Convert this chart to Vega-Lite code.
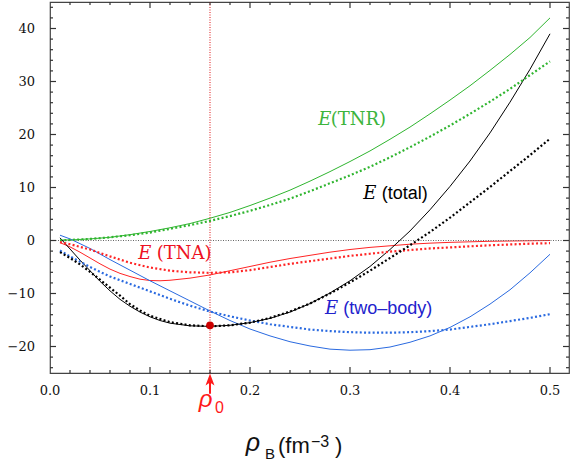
{
  "$schema": "https://vega.github.io/schema/vega-lite/v6.json",
  "width": 519,
  "height": 371,
  "autosize": {"type": "none"},
  "padding": {"left": 50, "top": 2, "right": 12, "bottom": 95},
  "data": {"values": [{}]},
  "config": {
    "view": {"stroke": "#444", "strokeWidth": 1.2}
  },
  "datasets": {
    "xlabels": [{"rho": 0}, {"rho": 0.1}, {"rho": 0.2}, {"rho": 0.3}, {"rho": 0.4}, {"rho": 0.5}],
    "ylabels": [{"E": -20}, {"E": -10}, {"E": 0}, {"E": 10}, {"E": 20}, {"E": 30}, {"E": 40}],
    "xmajor": [{"rho": 0.1}, {"rho": 0.2}, {"rho": 0.3}, {"rho": 0.4}, {"rho": 0.5}],
    "xminor": [{"rho": 0.02}, {"rho": 0.04}, {"rho": 0.06}, {"rho": 0.08}, {"rho": 0.12}, {"rho": 0.14}, {"rho": 0.16}, {"rho": 0.18}, {"rho": 0.22}, {"rho": 0.24}, {"rho": 0.26}, {"rho": 0.28}, {"rho": 0.32}, {"rho": 0.34}, {"rho": 0.36}, {"rho": 0.38}, {"rho": 0.42}, {"rho": 0.44}, {"rho": 0.46}, {"rho": 0.48}],
    "ymajor": [{"E": -20}, {"E": -10}, {"E": 0}, {"E": 10}, {"E": 20}, {"E": 30}, {"E": 40}],
    "yminor": [{"E": -24}, {"E": -22}, {"E": -18}, {"E": -16}, {"E": -14}, {"E": -12}, {"E": -8}, {"E": -6}, {"E": -4}, {"E": -2}, {"E": 2}, {"E": 4}, {"E": 6}, {"E": 8}, {"E": 12}, {"E": 14}, {"E": 16}, {"E": 18}, {"E": 22}, {"E": 24}, {"E": 26}, {"E": 28}, {"E": 32}, {"E": 34}, {"E": 36}, {"E": 38}, {"E": 42}, {"E": 44}],
    "curves": [
      {"rho": 0.01, "E": 0.1, "comp": "TNR", "style": "solid"},
      {"rho": 0.02, "E": 0.1, "comp": "TNR", "style": "solid"},
      {"rho": 0.04, "E": 0.3, "comp": "TNR", "style": "solid"},
      {"rho": 0.06, "E": 0.6, "comp": "TNR", "style": "solid"},
      {"rho": 0.08, "E": 1.1, "comp": "TNR", "style": "solid"},
      {"rho": 0.10, "E": 1.7, "comp": "TNR", "style": "solid"},
      {"rho": 0.12, "E": 2.4, "comp": "TNR", "style": "solid"},
      {"rho": 0.14, "E": 3.2, "comp": "TNR", "style": "solid"},
      {"rho": 0.16, "E": 4.2, "comp": "TNR", "style": "solid"},
      {"rho": 0.18, "E": 5.3, "comp": "TNR", "style": "solid"},
      {"rho": 0.20, "E": 6.6, "comp": "TNR", "style": "solid"},
      {"rho": 0.22, "E": 8.0, "comp": "TNR", "style": "solid"},
      {"rho": 0.24, "E": 9.5, "comp": "TNR", "style": "solid"},
      {"rho": 0.26, "E": 11.2, "comp": "TNR", "style": "solid"},
      {"rho": 0.28, "E": 13.0, "comp": "TNR", "style": "solid"},
      {"rho": 0.30, "E": 14.9, "comp": "TNR", "style": "solid"},
      {"rho": 0.32, "E": 16.9, "comp": "TNR", "style": "solid"},
      {"rho": 0.34, "E": 19.1, "comp": "TNR", "style": "solid"},
      {"rho": 0.36, "E": 21.4, "comp": "TNR", "style": "solid"},
      {"rho": 0.38, "E": 23.9, "comp": "TNR", "style": "solid"},
      {"rho": 0.40, "E": 26.5, "comp": "TNR", "style": "solid"},
      {"rho": 0.42, "E": 29.2, "comp": "TNR", "style": "solid"},
      {"rho": 0.44, "E": 32.1, "comp": "TNR", "style": "solid"},
      {"rho": 0.46, "E": 35.1, "comp": "TNR", "style": "solid"},
      {"rho": 0.48, "E": 38.3, "comp": "TNR", "style": "solid"},
      {"rho": 0.50, "E": 42.0, "comp": "TNR", "style": "solid"},

      {"rho": 0.01, "E": 0.0, "comp": "TNR", "style": "dotted"},
      {"rho": 0.02, "E": 0.1, "comp": "TNR", "style": "dotted"},
      {"rho": 0.04, "E": 0.3, "comp": "TNR", "style": "dotted"},
      {"rho": 0.06, "E": 0.6, "comp": "TNR", "style": "dotted"},
      {"rho": 0.08, "E": 1.0, "comp": "TNR", "style": "dotted"},
      {"rho": 0.10, "E": 1.5, "comp": "TNR", "style": "dotted"},
      {"rho": 0.12, "E": 2.2, "comp": "TNR", "style": "dotted"},
      {"rho": 0.14, "E": 2.9, "comp": "TNR", "style": "dotted"},
      {"rho": 0.16, "E": 3.7, "comp": "TNR", "style": "dotted"},
      {"rho": 0.18, "E": 4.6, "comp": "TNR", "style": "dotted"},
      {"rho": 0.20, "E": 5.6, "comp": "TNR", "style": "dotted"},
      {"rho": 0.22, "E": 6.7, "comp": "TNR", "style": "dotted"},
      {"rho": 0.24, "E": 7.9, "comp": "TNR", "style": "dotted"},
      {"rho": 0.26, "E": 9.3, "comp": "TNR", "style": "dotted"},
      {"rho": 0.28, "E": 10.8, "comp": "TNR", "style": "dotted"},
      {"rho": 0.30, "E": 12.3, "comp": "TNR", "style": "dotted"},
      {"rho": 0.32, "E": 13.9, "comp": "TNR", "style": "dotted"},
      {"rho": 0.34, "E": 15.7, "comp": "TNR", "style": "dotted"},
      {"rho": 0.36, "E": 17.6, "comp": "TNR", "style": "dotted"},
      {"rho": 0.38, "E": 19.6, "comp": "TNR", "style": "dotted"},
      {"rho": 0.40, "E": 21.7, "comp": "TNR", "style": "dotted"},
      {"rho": 0.42, "E": 23.9, "comp": "TNR", "style": "dotted"},
      {"rho": 0.44, "E": 26.2, "comp": "TNR", "style": "dotted"},
      {"rho": 0.46, "E": 28.6, "comp": "TNR", "style": "dotted"},
      {"rho": 0.48, "E": 31.2, "comp": "TNR", "style": "dotted"},
      {"rho": 0.50, "E": 33.8, "comp": "TNR", "style": "dotted"},

      {"rho": 0.01, "E": -0.4, "comp": "TNA", "style": "solid"},
      {"rho": 0.02, "E": -1.2, "comp": "TNA", "style": "solid"},
      {"rho": 0.03, "E": -2.2, "comp": "TNA", "style": "solid"},
      {"rho": 0.04, "E": -3.3, "comp": "TNA", "style": "solid"},
      {"rho": 0.05, "E": -4.4, "comp": "TNA", "style": "solid"},
      {"rho": 0.06, "E": -5.4, "comp": "TNA", "style": "solid"},
      {"rho": 0.07, "E": -6.2, "comp": "TNA", "style": "solid"},
      {"rho": 0.08, "E": -6.8, "comp": "TNA", "style": "solid"},
      {"rho": 0.09, "E": -7.3, "comp": "TNA", "style": "solid"},
      {"rho": 0.10, "E": -7.55, "comp": "TNA", "style": "solid"},
      {"rho": 0.11, "E": -7.6, "comp": "TNA", "style": "solid"},
      {"rho": 0.12, "E": -7.5, "comp": "TNA", "style": "solid"},
      {"rho": 0.14, "E": -7.1, "comp": "TNA", "style": "solid"},
      {"rho": 0.16, "E": -6.5, "comp": "TNA", "style": "solid"},
      {"rho": 0.18, "E": -5.7, "comp": "TNA", "style": "solid"},
      {"rho": 0.20, "E": -4.9, "comp": "TNA", "style": "solid"},
      {"rho": 0.22, "E": -4.1, "comp": "TNA", "style": "solid"},
      {"rho": 0.24, "E": -3.4, "comp": "TNA", "style": "solid"},
      {"rho": 0.26, "E": -2.8, "comp": "TNA", "style": "solid"},
      {"rho": 0.28, "E": -2.2, "comp": "TNA", "style": "solid"},
      {"rho": 0.30, "E": -1.7, "comp": "TNA", "style": "solid"},
      {"rho": 0.32, "E": -1.3, "comp": "TNA", "style": "solid"},
      {"rho": 0.34, "E": -1.0, "comp": "TNA", "style": "solid"},
      {"rho": 0.36, "E": -0.7, "comp": "TNA", "style": "solid"},
      {"rho": 0.38, "E": -0.5, "comp": "TNA", "style": "solid"},
      {"rho": 0.40, "E": -0.35, "comp": "TNA", "style": "solid"},
      {"rho": 0.42, "E": -0.25, "comp": "TNA", "style": "solid"},
      {"rho": 0.44, "E": -0.15, "comp": "TNA", "style": "solid"},
      {"rho": 0.46, "E": -0.1, "comp": "TNA", "style": "solid"},
      {"rho": 0.48, "E": -0.05, "comp": "TNA", "style": "solid"},
      {"rho": 0.50, "E": 0.0, "comp": "TNA", "style": "solid"},

      {"rho": 0.01, "E": -0.3, "comp": "TNA", "style": "dotted"},
      {"rho": 0.02, "E": -0.7, "comp": "TNA", "style": "dotted"},
      {"rho": 0.04, "E": -1.7, "comp": "TNA", "style": "dotted"},
      {"rho": 0.06, "E": -3.0, "comp": "TNA", "style": "dotted"},
      {"rho": 0.08, "E": -4.2, "comp": "TNA", "style": "dotted"},
      {"rho": 0.10, "E": -5.1, "comp": "TNA", "style": "dotted"},
      {"rho": 0.12, "E": -5.7, "comp": "TNA", "style": "dotted"},
      {"rho": 0.14, "E": -6.0, "comp": "TNA", "style": "dotted"},
      {"rho": 0.16, "E": -6.1, "comp": "TNA", "style": "dotted"},
      {"rho": 0.18, "E": -6.0, "comp": "TNA", "style": "dotted"},
      {"rho": 0.20, "E": -5.6, "comp": "TNA", "style": "dotted"},
      {"rho": 0.22, "E": -5.0, "comp": "TNA", "style": "dotted"},
      {"rho": 0.24, "E": -4.4, "comp": "TNA", "style": "dotted"},
      {"rho": 0.26, "E": -3.9, "comp": "TNA", "style": "dotted"},
      {"rho": 0.28, "E": -3.4, "comp": "TNA", "style": "dotted"},
      {"rho": 0.30, "E": -2.9, "comp": "TNA", "style": "dotted"},
      {"rho": 0.32, "E": -2.5, "comp": "TNA", "style": "dotted"},
      {"rho": 0.34, "E": -2.1, "comp": "TNA", "style": "dotted"},
      {"rho": 0.36, "E": -1.8, "comp": "TNA", "style": "dotted"},
      {"rho": 0.38, "E": -1.5, "comp": "TNA", "style": "dotted"},
      {"rho": 0.40, "E": -1.3, "comp": "TNA", "style": "dotted"},
      {"rho": 0.42, "E": -1.1, "comp": "TNA", "style": "dotted"},
      {"rho": 0.44, "E": -0.9, "comp": "TNA", "style": "dotted"},
      {"rho": 0.46, "E": -0.75, "comp": "TNA", "style": "dotted"},
      {"rho": 0.48, "E": -0.6, "comp": "TNA", "style": "dotted"},
      {"rho": 0.50, "E": -0.5, "comp": "TNA", "style": "dotted"},

      {"rho": 0.01, "E": 1.0, "comp": "two", "style": "solid"},
      {"rho": 0.02, "E": 0.3, "comp": "two", "style": "solid"},
      {"rho": 0.04, "E": -1.5, "comp": "two", "style": "solid"},
      {"rho": 0.06, "E": -3.6, "comp": "two", "style": "solid"},
      {"rho": 0.08, "E": -5.6, "comp": "two", "style": "solid"},
      {"rho": 0.10, "E": -7.6, "comp": "two", "style": "solid"},
      {"rho": 0.12, "E": -9.5, "comp": "two", "style": "solid"},
      {"rho": 0.14, "E": -11.4, "comp": "two", "style": "solid"},
      {"rho": 0.16, "E": -13.3, "comp": "two", "style": "solid"},
      {"rho": 0.18, "E": -15.1, "comp": "two", "style": "solid"},
      {"rho": 0.20, "E": -16.7, "comp": "two", "style": "solid"},
      {"rho": 0.22, "E": -18.0, "comp": "two", "style": "solid"},
      {"rho": 0.24, "E": -19.1, "comp": "two", "style": "solid"},
      {"rho": 0.26, "E": -19.9, "comp": "two", "style": "solid"},
      {"rho": 0.28, "E": -20.5, "comp": "two", "style": "solid"},
      {"rho": 0.30, "E": -20.7, "comp": "two", "style": "solid"},
      {"rho": 0.32, "E": -20.6, "comp": "two", "style": "solid"},
      {"rho": 0.34, "E": -20.1, "comp": "two", "style": "solid"},
      {"rho": 0.36, "E": -19.2, "comp": "two", "style": "solid"},
      {"rho": 0.38, "E": -18.0, "comp": "two", "style": "solid"},
      {"rho": 0.40, "E": -16.4, "comp": "two", "style": "solid"},
      {"rho": 0.42, "E": -14.4, "comp": "two", "style": "solid"},
      {"rho": 0.44, "E": -12.0, "comp": "two", "style": "solid"},
      {"rho": 0.46, "E": -9.3, "comp": "two", "style": "solid"},
      {"rho": 0.48, "E": -6.1, "comp": "two", "style": "solid"},
      {"rho": 0.50, "E": -2.6, "comp": "two", "style": "solid"},

      {"rho": 0.01, "E": -1.9, "comp": "two", "style": "dotted"},
      {"rho": 0.02, "E": -3.0, "comp": "two", "style": "dotted"},
      {"rho": 0.04, "E": -5.0, "comp": "two", "style": "dotted"},
      {"rho": 0.06, "E": -6.8, "comp": "two", "style": "dotted"},
      {"rho": 0.08, "E": -8.2, "comp": "two", "style": "dotted"},
      {"rho": 0.10, "E": -9.6, "comp": "two", "style": "dotted"},
      {"rho": 0.12, "E": -11.0, "comp": "two", "style": "dotted"},
      {"rho": 0.14, "E": -12.3, "comp": "two", "style": "dotted"},
      {"rho": 0.16, "E": -13.4, "comp": "two", "style": "dotted"},
      {"rho": 0.18, "E": -14.3, "comp": "two", "style": "dotted"},
      {"rho": 0.20, "E": -15.1, "comp": "two", "style": "dotted"},
      {"rho": 0.22, "E": -15.8, "comp": "two", "style": "dotted"},
      {"rho": 0.24, "E": -16.3, "comp": "two", "style": "dotted"},
      {"rho": 0.26, "E": -16.8, "comp": "two", "style": "dotted"},
      {"rho": 0.28, "E": -17.1, "comp": "two", "style": "dotted"},
      {"rho": 0.30, "E": -17.3, "comp": "two", "style": "dotted"},
      {"rho": 0.32, "E": -17.4, "comp": "two", "style": "dotted"},
      {"rho": 0.34, "E": -17.4, "comp": "two", "style": "dotted"},
      {"rho": 0.36, "E": -17.3, "comp": "two", "style": "dotted"},
      {"rho": 0.38, "E": -17.1, "comp": "two", "style": "dotted"},
      {"rho": 0.40, "E": -16.8, "comp": "two", "style": "dotted"},
      {"rho": 0.42, "E": -16.3, "comp": "two", "style": "dotted"},
      {"rho": 0.44, "E": -15.8, "comp": "two", "style": "dotted"},
      {"rho": 0.46, "E": -15.2, "comp": "two", "style": "dotted"},
      {"rho": 0.48, "E": -14.6, "comp": "two", "style": "dotted"},
      {"rho": 0.50, "E": -13.9, "comp": "two", "style": "dotted"},

      {"rho": 0.01, "E": 0.5, "comp": "total", "style": "solid"},
      {"rho": 0.02, "E": -1.6, "comp": "total", "style": "solid"},
      {"rho": 0.03, "E": -3.7, "comp": "total", "style": "solid"},
      {"rho": 0.04, "E": -5.7, "comp": "total", "style": "solid"},
      {"rho": 0.05, "E": -7.7, "comp": "total", "style": "solid"},
      {"rho": 0.06, "E": -9.5, "comp": "total", "style": "solid"},
      {"rho": 0.07, "E": -11.1, "comp": "total", "style": "solid"},
      {"rho": 0.08, "E": -12.4, "comp": "total", "style": "solid"},
      {"rho": 0.09, "E": -13.5, "comp": "total", "style": "solid"},
      {"rho": 0.10, "E": -14.4, "comp": "total", "style": "solid"},
      {"rho": 0.11, "E": -15.1, "comp": "total", "style": "solid"},
      {"rho": 0.12, "E": -15.6, "comp": "total", "style": "solid"},
      {"rho": 0.14, "E": -16.1, "comp": "total", "style": "solid"},
      {"rho": 0.16, "E": -16.2, "comp": "total", "style": "solid"},
      {"rho": 0.18, "E": -16.0, "comp": "total", "style": "solid"},
      {"rho": 0.20, "E": -15.5, "comp": "total", "style": "solid"},
      {"rho": 0.22, "E": -14.7, "comp": "total", "style": "solid"},
      {"rho": 0.24, "E": -13.5, "comp": "total", "style": "solid"},
      {"rho": 0.26, "E": -11.9, "comp": "total", "style": "solid"},
      {"rho": 0.28, "E": -9.9, "comp": "total", "style": "solid"},
      {"rho": 0.30, "E": -7.6, "comp": "total", "style": "solid"},
      {"rho": 0.32, "E": -4.9, "comp": "total", "style": "solid"},
      {"rho": 0.34, "E": -1.7, "comp": "total", "style": "solid"},
      {"rho": 0.36, "E": 1.8, "comp": "total", "style": "solid"},
      {"rho": 0.38, "E": 5.8, "comp": "total", "style": "solid"},
      {"rho": 0.40, "E": 10.2, "comp": "total", "style": "solid"},
      {"rho": 0.42, "E": 15.0, "comp": "total", "style": "solid"},
      {"rho": 0.44, "E": 20.3, "comp": "total", "style": "solid"},
      {"rho": 0.46, "E": 26.1, "comp": "total", "style": "solid"},
      {"rho": 0.48, "E": 32.3, "comp": "total", "style": "solid"},
      {"rho": 0.50, "E": 39.0, "comp": "total", "style": "solid"},

      {"rho": 0.01, "E": -2.2, "comp": "total", "style": "dotted"},
      {"rho": 0.02, "E": -3.3, "comp": "total", "style": "dotted"},
      {"rho": 0.03, "E": -4.5, "comp": "total", "style": "dotted"},
      {"rho": 0.04, "E": -5.9, "comp": "total", "style": "dotted"},
      {"rho": 0.05, "E": -7.4, "comp": "total", "style": "dotted"},
      {"rho": 0.06, "E": -8.9, "comp": "total", "style": "dotted"},
      {"rho": 0.07, "E": -10.4, "comp": "total", "style": "dotted"},
      {"rho": 0.08, "E": -12.0, "comp": "total", "style": "dotted"},
      {"rho": 0.09, "E": -13.2, "comp": "total", "style": "dotted"},
      {"rho": 0.10, "E": -14.2, "comp": "total", "style": "dotted"},
      {"rho": 0.12, "E": -15.4, "comp": "total", "style": "dotted"},
      {"rho": 0.14, "E": -16.0, "comp": "total", "style": "dotted"},
      {"rho": 0.16, "E": -16.2, "comp": "total", "style": "dotted"},
      {"rho": 0.18, "E": -16.0, "comp": "total", "style": "dotted"},
      {"rho": 0.20, "E": -15.5, "comp": "total", "style": "dotted"},
      {"rho": 0.22, "E": -14.6, "comp": "total", "style": "dotted"},
      {"rho": 0.24, "E": -13.4, "comp": "total", "style": "dotted"},
      {"rho": 0.26, "E": -11.9, "comp": "total", "style": "dotted"},
      {"rho": 0.28, "E": -10.0, "comp": "total", "style": "dotted"},
      {"rho": 0.30, "E": -7.9, "comp": "total", "style": "dotted"},
      {"rho": 0.32, "E": -5.7, "comp": "total", "style": "dotted"},
      {"rho": 0.34, "E": -3.3, "comp": "total", "style": "dotted"},
      {"rho": 0.36, "E": -0.9, "comp": "total", "style": "dotted"},
      {"rho": 0.38, "E": 1.6, "comp": "total", "style": "dotted"},
      {"rho": 0.40, "E": 4.3, "comp": "total", "style": "dotted"},
      {"rho": 0.42, "E": 7.2, "comp": "total", "style": "dotted"},
      {"rho": 0.44, "E": 10.1, "comp": "total", "style": "dotted"},
      {"rho": 0.46, "E": 13.1, "comp": "total", "style": "dotted"},
      {"rho": 0.48, "E": 16.1, "comp": "total", "style": "dotted"},
      {"rho": 0.50, "E": 19.2, "comp": "total", "style": "dotted"}
    ],
    "saturation": [{"rho": 0.16, "E": -16.0}]
  },
  "layer": [
    {
      "data": {"name": "curves"},
      "transform": [{"filter": "datum.style === 'solid'"}],
      "mark": {"type": "line", "strokeWidth": 1},
      "encoding": {
        "x": {"field": "rho", "type": "quantitative", "scale": {"domain": [0, 0.519], "nice": false, "zero": false}, "axis": null},
        "y": {"field": "E", "type": "quantitative", "scale": {"domain": [-25, 45], "nice": false, "zero": false}, "axis": null},
        "color": {"field": "comp", "type": "nominal", "legend": null,
          "scale": {"domain": ["TNR", "TNA", "total", "two"], "range": ["#2fb52f", "#ff2424", "#000000", "#2a6ae0"]}}
      }
    },
    {
      "mark": {"type": "rule", "color": "#666", "strokeDash": [1, 1.5], "strokeWidth": 1},
      "encoding": {"y": {"datum": 0, "type": "quantitative", "axis": null}}
    },
    {
      "mark": {"type": "rule", "color": "#dd1111", "strokeDash": [1, 1.5], "strokeWidth": 1},
      "encoding": {"x": {"datum": 0.16, "type": "quantitative", "axis": null}}
    },
    {
      "data": {"name": "curves"},
      "transform": [{"filter": "datum.style === 'dotted'"}],
      "mark": {"type": "line", "strokeWidth": 2.2, "strokeDash": [2, 2.3]},
      "encoding": {
        "x": {"field": "rho", "type": "quantitative", "axis": null},
        "y": {"field": "E", "type": "quantitative", "axis": null},
        "color": {"field": "comp", "type": "nominal", "legend": null}
      }
    },
    {
      "data": {"name": "saturation"},
      "mark": {"type": "circle", "color": "#cc0000", "opacity": 1, "size": 60},
      "encoding": {
        "x": {"field": "rho", "type": "quantitative", "axis": null},
        "y": {"field": "E", "type": "quantitative", "axis": null}
      }
    },
    {
      "mark": {"type": "rule", "color": "#ff1a1a", "strokeWidth": 2},
      "encoding": {
        "x": {"datum": 0.16, "type": "quantitative", "axis": null},
        "y": {"datum": -26.5, "type": "quantitative", "axis": null},
        "y2": {"datum": -28.9}
      }
    },
    {
      "mark": {"type": "point", "shape": "M0,-1L0.6,0.6L0,0.2L-0.6,0.6Z", "size": 225, "filled": true, "color": "#ff1a1a", "opacity": 1},
      "encoding": {
        "x": {"datum": 0.16, "type": "quantitative", "axis": null},
        "y": {"datum": -26.5, "type": "quantitative", "axis": null}
      }
    },
    {
      "data": {"name": "xlabels"},
      "mark": {"type": "text", "font": "DejaVu Serif", "fontSize": 13, "color": "#111", "align": "center", "baseline": "top", "dy": 12},
      "encoding": {"x": {"field": "rho", "type": "quantitative", "axis": null}, "y": {"datum": -25, "type": "quantitative", "axis": null}, "text": {"field": "rho", "type": "quantitative", "format": ".1f"}}
    },
    {
      "data": {"name": "ylabels"},
      "mark": {"type": "text", "font": "DejaVu Serif", "fontSize": 13, "color": "#111", "align": "right", "baseline": "middle", "dx": -15},
      "encoding": {"y": {"field": "E", "type": "quantitative", "axis": null}, "x": {"datum": 0, "type": "quantitative", "axis": null}, "text": {"field": "E", "type": "quantitative", "format": "d"}}
    },
    {
      "mark": {"type": "text", "text": "E", "font": "DejaVu Serif", "fontStyle": "italic", "fontSize": 18, "color": "#3cb43c", "align": "left", "baseline": "alphabetic"},
      "encoding": {"x": {"datum": 0.2683, "type": "quantitative", "axis": null}, "y": {"datum": 21.8, "type": "quantitative", "axis": null}}
    },
    {
      "mark": {"type": "text", "text": "(TNR)", "font": "DejaVu Serif", "fontSize": 18, "color": "#3cb43c", "align": "left", "baseline": "alphabetic"},
      "encoding": {"x": {"datum": 0.2807, "type": "quantitative", "axis": null}, "y": {"datum": 21.8, "type": "quantitative", "axis": null}}
    },
    {
      "mark": {"type": "text", "text": "E", "font": "DejaVu Serif", "fontStyle": "italic", "fontSize": 18, "color": "#ee1122", "align": "left", "baseline": "alphabetic"},
      "encoding": {"x": {"datum": 0.0883, "type": "quantitative", "axis": null}, "y": {"datum": -3.55, "type": "quantitative", "axis": null}}
    },
    {
      "mark": {"type": "text", "text": "(TNA)", "font": "DejaVu Serif", "fontSize": 18, "color": "#ee1122", "align": "left", "baseline": "alphabetic"},
      "encoding": {"x": {"datum": 0.1067, "type": "quantitative", "axis": null}, "y": {"datum": -3.55, "type": "quantitative", "axis": null}}
    },
    {
      "mark": {"type": "text", "text": "E", "font": "DejaVu Serif", "fontStyle": "italic", "fontSize": 18, "color": "#000000", "align": "left", "baseline": "alphabetic"},
      "encoding": {"x": {"datum": 0.3133, "type": "quantitative", "axis": null}, "y": {"datum": 7.8, "type": "quantitative", "axis": null}}
    },
    {
      "mark": {"type": "text", "text": "(total)", "font": "Liberation Sans", "fontSize": 18, "color": "#000000", "align": "left", "baseline": "alphabetic"},
      "encoding": {"x": {"datum": 0.3317, "type": "quantitative", "axis": null}, "y": {"datum": 7.8, "type": "quantitative", "axis": null}}
    },
    {
      "mark": {"type": "text", "text": "E", "font": "DejaVu Serif", "fontStyle": "italic", "fontSize": 18, "color": "#2222cc", "align": "left", "baseline": "alphabetic"},
      "encoding": {"x": {"datum": 0.275, "type": "quantitative", "axis": null}, "y": {"datum": -13.9, "type": "quantitative", "axis": null}}
    },
    {
      "mark": {"type": "text", "text": "(two–body)", "font": "Liberation Sans", "fontSize": 18, "color": "#2222cc", "align": "left", "baseline": "alphabetic"},
      "encoding": {"x": {"datum": 0.2933, "type": "quantitative", "axis": null}, "y": {"datum": -13.9, "type": "quantitative", "axis": null}}
    },
    {
      "mark": {"type": "text", "text": "ρ", "font": "Liberation Sans", "fontSize": 24, "fontStyle": "italic", "color": "#ff1a1a", "align": "center", "baseline": "alphabetic"},
      "encoding": {"x": {"datum": 0.1555, "type": "quantitative", "axis": null}, "y": {"datum": -31.4, "type": "quantitative", "axis": null}}
    },
    {
      "mark": {"type": "text", "text": "0", "font": "Liberation Sans", "fontSize": 16, "color": "#ff1a1a", "align": "left", "baseline": "alphabetic"},
      "encoding": {"x": {"datum": 0.165, "type": "quantitative", "axis": null}, "y": {"datum": -32.6, "type": "quantitative", "axis": null}}
    },
    {
      "mark": {"type": "text", "text": "ρ", "font": "Liberation Sans", "fontSize": 25, "fontStyle": "italic", "color": "#111", "align": "center", "baseline": "alphabetic"},
      "encoding": {"x": {"datum": 0.203, "type": "quantitative", "axis": null}, "y": {"datum": -39.7, "type": "quantitative", "axis": null}}
    },
    {
      "mark": {"type": "text", "text": "B", "font": "Liberation Sans", "fontSize": 15, "color": "#111", "align": "left", "baseline": "alphabetic"},
      "encoding": {"x": {"datum": 0.215, "type": "quantitative", "axis": null}, "y": {"datum": -41.2, "type": "quantitative", "axis": null}}
    },
    {
      "mark": {"type": "text", "text": "(fm", "font": "Liberation Sans", "fontSize": 22, "color": "#111", "align": "left", "baseline": "alphabetic"},
      "encoding": {"x": {"datum": 0.228, "type": "quantitative", "axis": null}, "y": {"datum": -40.1, "type": "quantitative", "axis": null}}
    },
    {
      "mark": {"type": "text", "text": "−3", "font": "Liberation Sans", "fontSize": 16, "color": "#111", "align": "left", "baseline": "alphabetic"},
      "encoding": {"x": {"datum": 0.261, "type": "quantitative", "axis": null}, "y": {"datum": -39.0, "type": "quantitative", "axis": null}}
    },
    {
      "mark": {"type": "text", "text": ")", "font": "Liberation Sans", "fontSize": 22, "color": "#111", "align": "left", "baseline": "alphabetic"},
      "encoding": {"x": {"datum": 0.285, "type": "quantitative", "axis": null}, "y": {"datum": -40.1, "type": "quantitative", "axis": null}}
    },
    {
      "data": {"name": "xmajor"},
      "mark": {"type": "rule", "color": "#333", "strokeWidth": 1.2},
      "encoding": {"x": {"field": "rho", "type": "quantitative", "axis": null}, "y": {"datum": -25, "type": "quantitative", "axis": null}, "y2": {"datum": -23.87}}
    },
    {
      "data": {"name": "xmajor"},
      "mark": {"type": "rule", "color": "#333", "strokeWidth": 1.2},
      "encoding": {"x": {"field": "rho", "type": "quantitative", "axis": null}, "y": {"datum": 45, "type": "quantitative", "axis": null}, "y2": {"datum": 43.87}}
    },
    {
      "data": {"name": "xminor"},
      "mark": {"type": "rule", "color": "#333", "strokeWidth": 1.2},
      "encoding": {"x": {"field": "rho", "type": "quantitative", "axis": null}, "y": {"datum": -25, "type": "quantitative", "axis": null}, "y2": {"datum": -24.43}}
    },
    {
      "data": {"name": "xminor"},
      "mark": {"type": "rule", "color": "#333", "strokeWidth": 1.2},
      "encoding": {"x": {"field": "rho", "type": "quantitative", "axis": null}, "y": {"datum": 45, "type": "quantitative", "axis": null}, "y2": {"datum": 44.43}}
    },
    {
      "data": {"name": "ymajor"},
      "mark": {"type": "rule", "color": "#333", "strokeWidth": 1.2},
      "encoding": {"y": {"field": "E", "type": "quantitative", "axis": null}, "x": {"datum": 0, "type": "quantitative", "axis": null}, "x2": {"datum": 0.006}}
    },
    {
      "data": {"name": "ymajor"},
      "mark": {"type": "rule", "color": "#333", "strokeWidth": 1.2},
      "encoding": {"y": {"field": "E", "type": "quantitative", "axis": null}, "x": {"datum": 0.519, "type": "quantitative", "axis": null}, "x2": {"datum": 0.513}}
    },
    {
      "data": {"name": "yminor"},
      "mark": {"type": "rule", "color": "#333", "strokeWidth": 1.2},
      "encoding": {"y": {"field": "E", "type": "quantitative", "axis": null}, "x": {"datum": 0, "type": "quantitative", "axis": null}, "x2": {"datum": 0.003}}
    },
    {
      "data": {"name": "yminor"},
      "mark": {"type": "rule", "color": "#333", "strokeWidth": 1.2},
      "encoding": {"y": {"field": "E", "type": "quantitative", "axis": null}, "x": {"datum": 0.519, "type": "quantitative", "axis": null}, "x2": {"datum": 0.516}}
    }
  ]
}
